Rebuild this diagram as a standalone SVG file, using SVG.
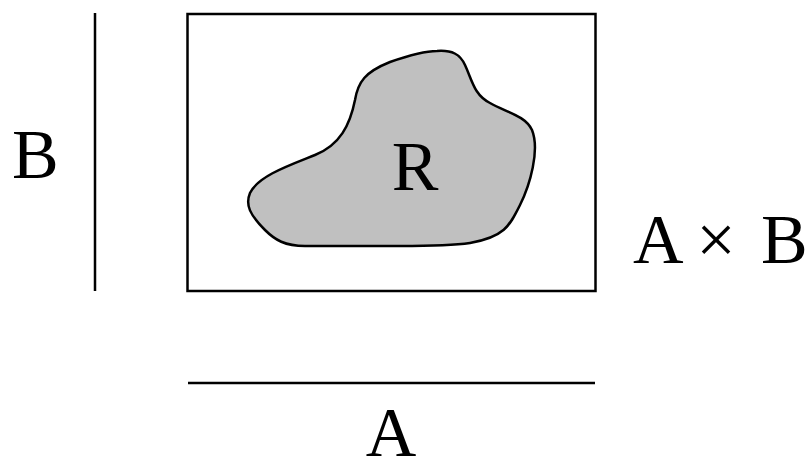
<svg xmlns="http://www.w3.org/2000/svg" width="807" height="457" viewBox="0 0 807 457">
<style>
.ln{stroke:#000;stroke-width:2.5;fill:none}
text{font-family:'Liberation Serif','Times New Roman',serif;font-size:70px;fill:#000}
</style>
<rect width="807" height="457" fill="#fff"/>
<g id="connectors">
<line class="ln" x1="95" y1="13" x2="95" y2="291"/>
<line class="ln" x1="188" y1="383" x2="595" y2="383"/>
</g>
<g id="product">
<rect class="ln" x="187.5" y="14" width="408" height="277"/>
<text x="633" y="263">A</text>
<text x="716" y="263" font-size="82" text-anchor="middle">×</text>
<text x="761" y="263">B</text>
</g>
<g id="region-R">
<path d="M 437,51 C 452,50 460,54 465,65 C 472,80 474,95 490,103 C 505,112 525,115 532,130 C 540,150 530,185 520,205 C 510,225 505,237 470,243 C 450,246 420,246 400,246 L 305,246 C 285,246 275,240 265,230 C 250,215 245,205 250,193 C 258,176 290,165 315,155 C 340,145 350,125 355,100 C 358,82 365,72 390,62 C 410,55 425,51 437,51 Z" fill="#c0c0c0" stroke="#000" stroke-width="2.5"/>
<text x="415" y="190" text-anchor="middle">R</text>
</g>
<g id="label-B">
<text x="12" y="178">B</text>
</g>
<g id="label-A">
<text x="391" y="456" text-anchor="middle">A</text>
</g>
</svg>
